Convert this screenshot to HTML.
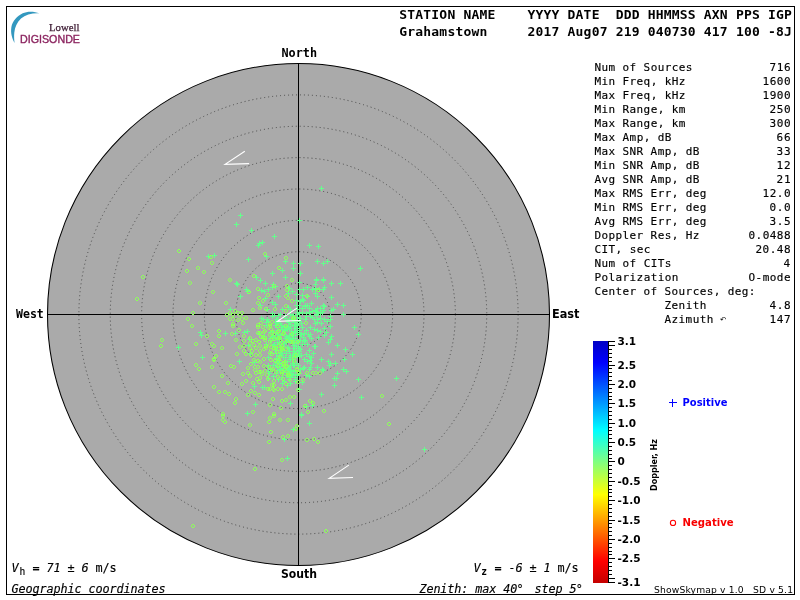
<!DOCTYPE html>
<html><head><meta charset="utf-8"><title>Skymap Grahamstown</title>
<style>
html,body{margin:0;padding:0;background:#fff;}
body{width:800px;height:600px;overflow:hidden;}
svg{display:block;}
.mb{font-family:"DejaVu Sans Mono","Liberation Mono",monospace;font-weight:bold;}
.m{font-family:"DejaVu Sans Mono","Liberation Mono",monospace;stroke:#000;stroke-width:0.15px;}
.mi{font-family:"DejaVu Sans Mono","Liberation Mono",monospace;font-style:italic;stroke:#000;stroke-width:0.14px;}
.sb{font-family:"DejaVu Sans","Liberation Sans",sans-serif;font-weight:bold;}
.s{font-family:"DejaVu Sans","Liberation Sans",sans-serif;}
</style>
</head><body>
<svg width="800" height="600" viewBox="0 0 800 600">
<defs><linearGradient id="cb" x1="0" y1="0" x2="0" y2="1">
<stop offset="0" stop-color="#0000c4"/>
<stop offset="0.09" stop-color="#0000ff"/>
<stop offset="0.37" stop-color="#00ffff"/>
<stop offset="0.5" stop-color="#80ff80"/>
<stop offset="0.635" stop-color="#ffff00"/>
<stop offset="0.91" stop-color="#ff0000"/>
<stop offset="1" stop-color="#c40000"/>
</linearGradient></defs>
<rect x="0" y="0" width="800" height="600" fill="#fff"/>
<rect x="6.5" y="6.5" width="788" height="588" fill="none" stroke="#000" stroke-width="1" shape-rendering="crispEdges"/>
<circle cx="298.5" cy="314.5" r="251" fill="#aaaaaa" stroke="#000" stroke-width="1.05"/>
<circle cx="298.5" cy="314.5" r="31.38" fill="none" stroke="#484848" stroke-width="1" stroke-dasharray="1 3"/>
<circle cx="298.5" cy="314.5" r="62.75" fill="none" stroke="#484848" stroke-width="1" stroke-dasharray="1 3"/>
<circle cx="298.5" cy="314.5" r="94.12" fill="none" stroke="#484848" stroke-width="1" stroke-dasharray="1 3"/>
<circle cx="298.5" cy="314.5" r="125.50" fill="none" stroke="#484848" stroke-width="1" stroke-dasharray="1 3"/>
<circle cx="298.5" cy="314.5" r="156.88" fill="none" stroke="#484848" stroke-width="1" stroke-dasharray="1 3"/>
<circle cx="298.5" cy="314.5" r="188.25" fill="none" stroke="#484848" stroke-width="1" stroke-dasharray="1 3"/>
<circle cx="298.5" cy="314.5" r="219.62" fill="none" stroke="#484848" stroke-width="1" stroke-dasharray="1 3"/>
<path d="M298.5 63.5 V565.5 M47.5 314.5 H549.5" stroke="#000" stroke-width="1" fill="none" shape-rendering="crispEdges"/>
<path d="M238 215.5h5M240.5 213v5M234 224.5h5M236.5 222v5M249 230.5h5M251.5 228v5M272 236.5h5M274.5 234v5M260 242.5h5M262.5 240v5M257 243.5h5M259.5 241v5M256 245.5h5M258.5 243v5M264 256.5h5M266.5 254v5M246 259.5h5M248.5 257v5M206 256.5h5M208.5 254v5M212 255.5h5M214.5 253v5M270 273.5h5M272.5 271v5M254 277.5h5M256.5 275v5M258 280.5h5M260.5 278v5M263 283.5h5M265.5 281v5M271 284.5h5M273.5 282v5M235 284.5h5M237.5 282v5M266 289.5h5M268.5 287v5M244 289.5h5M246.5 287v5M319 188.5h5M321.5 186v5M297 220.5h5M299.5 218v5M307 245.5h5M309.5 243v5M316 246.5h5M318.5 244v5M283 261.5h5M285.5 259v5M291 263.5h5M293.5 261v5M298 263.5h5M300.5 261v5M315 261.5h5M317.5 259v5M321 263.5h5M323.5 261v5M325 261.5h5M327.5 259v5M291 268.5h5M293.5 266v5M280 270.5h5M282.5 268v5M298 273.5h5M300.5 271v5M358 268.5h5M360.5 266v5M283 277.5h5M285.5 275v5M314 279.5h5M316.5 277v5M321 279.5h5M323.5 277v5M297 282.5h5M299.5 280v5M313 284.5h5M315.5 282v5M329 283.5h5M331.5 281v5M338 283.5h5M340.5 281v5M305 287.5h5M307.5 285v5M322 287.5h5M324.5 285v5M286 288.5h5M288.5 286v5M297 289.5h5M299.5 287v5M301 289.5h5M303.5 287v5M310 289.5h5M312.5 287v5M317 289.5h5M319.5 287v5M198 332.5h5M200.5 330v5M199 335.5h5M201.5 333v5M176 347.5h5M178.5 345v5M200 357.5h5M202.5 355v5M234 283.5h5M236.5 281v5M245 291.5h5M247.5 289v5M238 296.5h5M240.5 294v5M270 287.5h5M272.5 285v5M259 290.5h5M261.5 288v5M262 291.5h5M264.5 289v5M263 298.5h5M265.5 296v5M270 302.5h5M272.5 300v5M258 305.5h5M260.5 303v5M265 309.5h5M267.5 307v5M228 309.5h5M230.5 307v5M270 313.5h5M272.5 311v5M272 315.5h5M274.5 313v5M270 316.5h5M272.5 314v5M259 318.5h5M261.5 316v5M261 319.5h5M263.5 317v5M265 319.5h5M267.5 317v5M264 322.5h5M266.5 320v5M273 286.5h5M275.5 284v5M276 296.5h5M278.5 294v5M287 288.5h5M289.5 286v5M290 291.5h5M292.5 289v5M286 293.5h5M288.5 291v5M294 294.5h5M296.5 292v5M313 288.5h5M315.5 286v5M321 289.5h5M323.5 287v5M321 280.5h5M323.5 278v5M314 280.5h5M316.5 278v5M313 293.5h5M315.5 291v5M315 296.5h5M317.5 294v5M329 297.5h5M331.5 295v5M300 295.5h5M302.5 293v5M305 296.5h5M307.5 294v5M300 299.5h5M302.5 297v5M298 301.5h5M300.5 299v5M273 304.5h5M275.5 302v5M309 303.5h5M311.5 301v5M305 305.5h5M307.5 303v5M294 305.5h5M296.5 303v5M297 305.5h5M299.5 303v5M300 308.5h5M302.5 306v5M280 309.5h5M282.5 307v5M286 307.5h5M288.5 305v5M288 309.5h5M290.5 307v5M295 309.5h5M297.5 307v5M307 308.5h5M309.5 306v5M315 308.5h5M317.5 306v5M321 305.5h5M323.5 303v5M322 306.5h5M324.5 304v5M321 310.5h5M323.5 308v5M313 310.5h5M315.5 308v5M310 311.5h5M312.5 309v5M307 312.5h5M309.5 310v5M304 313.5h5M306.5 311v5M329 310.5h5M331.5 308v5M331 309.5h5M333.5 307v5M295 312.5h5M297.5 310v5M295 314.5h5M297.5 312v5M291 315.5h5M293.5 313v5M278 314.5h5M280.5 312v5M276 315.5h5M278.5 313v5M283 316.5h5M285.5 314v5M288 314.5h5M290.5 312v5M274 319.5h5M276.5 317v5M287 319.5h5M289.5 317v5M295 317.5h5M297.5 315v5M298 318.5h5M300.5 316v5M304 316.5h5M306.5 314v5M303 319.5h5M305.5 317v5M308 316.5h5M310.5 314v5M310 317.5h5M312.5 315v5M312 319.5h5M314.5 317v5M314 315.5h5M316.5 313v5M315 319.5h5M317.5 317v5M315 322.5h5M317.5 320v5M318 313.5h5M320.5 311v5M322 319.5h5M324.5 317v5M328 316.5h5M330.5 314v5M328 319.5h5M330.5 317v5M278 323.5h5M280.5 321v5M287 322.5h5M289.5 320v5M292 322.5h5M294.5 320v5M295 323.5h5M297.5 321v5M319 323.5h5M321.5 321v5M313 323.5h5M315.5 321v5M335 304.5h5M337.5 302v5M341 305.5h5M343.5 303v5M341 314.5h5M343.5 312v5M223 333.5h5M225.5 331v5M233 333.5h5M235.5 331v5M242 332.5h5M244.5 330v5M245 331.5h5M247.5 329v5M257 333.5h5M259.5 331v5M262 336.5h5M264.5 334v5M268 332.5h5M270.5 330v5M268 338.5h5M270.5 336v5M268 340.5h5M270.5 338v5M247 339.5h5M249.5 337v5M246 345.5h5M248.5 343v5M264 344.5h5M266.5 342v5M271 345.5h5M273.5 343v5M248 353.5h5M250.5 351v5M268 353.5h5M270.5 351v5M237 361.5h5M239.5 359v5M252 362.5h5M254.5 360v5M271 365.5h5M273.5 363v5M264 325.5h5M266.5 323v5M329 336.5h5M331.5 334v5M328 339.5h5M330.5 337v5M326 342.5h5M328.5 340v5M322 335.5h5M324.5 333v5M324 332.5h5M326.5 330v5M322 328.5h5M324.5 326v5M318 331.5h5M320.5 329v5M315 330.5h5M317.5 328v5M312 329.5h5M314.5 327v5M316 337.5h5M318.5 335v5M313 346.5h5M315.5 344v5M312 346.5h5M314.5 344v5M311 353.5h5M313.5 351v5M329 354.5h5M331.5 352v5M319 359.5h5M321.5 357v5M326 361.5h5M328.5 359v5M328 363.5h5M330.5 361v5M327 365.5h5M329.5 363v5M315 367.5h5M317.5 365v5M320 369.5h5M322.5 367v5M307 350.5h5M309.5 348v5M307 356.5h5M309.5 354v5M308 360.5h5M310.5 358v5M309 363.5h5M311.5 361v5M308 367.5h5M310.5 365v5M306 334.5h5M308.5 332v5M309 338.5h5M311.5 336v5M304 330.5h5M306.5 328v5M302 333.5h5M304.5 331v5M308 327.5h5M310.5 325v5M305 344.5h5M307.5 342v5M303 340.5h5M305.5 338v5M274 325.5h5M276.5 323v5M279 325.5h5M281.5 323v5M282 326.5h5M284.5 324v5M284 326.5h5M286.5 324v5M288 326.5h5M290.5 324v5M292 325.5h5M294.5 323v5M300 327.5h5M302.5 325v5M275 330.5h5M277.5 328v5M280 329.5h5M282.5 327v5M283 330.5h5M285.5 328v5M285 329.5h5M287.5 327v5M289 331.5h5M291.5 329v5M292 331.5h5M294.5 329v5M297 330.5h5M299.5 328v5M275 334.5h5M277.5 332v5M278 335.5h5M280.5 333v5M282 334.5h5M284.5 332v5M287 335.5h5M289.5 333v5M289 334.5h5M291.5 332v5M293 335.5h5M295.5 333v5M298 334.5h5M300.5 332v5M299 334.5h5M301.5 332v5M273 338.5h5M275.5 336v5M277 339.5h5M279.5 337v5M283 338.5h5M285.5 336v5M287 338.5h5M289.5 336v5M290 338.5h5M292.5 336v5M293 338.5h5M295.5 336v5M298 340.5h5M300.5 338v5M301 337.5h5M303.5 335v5M275 344.5h5M277.5 342v5M279 341.5h5M281.5 339v5M282 343.5h5M284.5 341v5M284 342.5h5M286.5 340v5M288 341.5h5M290.5 339v5M292 343.5h5M294.5 341v5M296 341.5h5M298.5 339v5M302 341.5h5M304.5 339v5M275 347.5h5M277.5 345v5M279 347.5h5M281.5 345v5M281 346.5h5M283.5 344v5M285 347.5h5M287.5 345v5M291 345.5h5M293.5 343v5M292 345.5h5M294.5 343v5M296 346.5h5M298.5 344v5M300 344.5h5M302.5 342v5M274 350.5h5M276.5 348v5M279 350.5h5M281.5 348v5M282 350.5h5M284.5 348v5M286 348.5h5M288.5 346v5M291 351.5h5M293.5 349v5M294 351.5h5M296.5 349v5M274 353.5h5M276.5 351v5M278 352.5h5M280.5 350v5M280 353.5h5M282.5 351v5M284 353.5h5M286.5 351v5M288 355.5h5M290.5 353v5M293 353.5h5M295.5 351v5M296 353.5h5M298.5 351v5M299 355.5h5M301.5 353v5M274 358.5h5M276.5 356v5M277 356.5h5M279.5 354v5M281 357.5h5M283.5 355v5M287 357.5h5M289.5 355v5M288 359.5h5M290.5 357v5M293 357.5h5M295.5 355v5M297 356.5h5M299.5 354v5M302 359.5h5M304.5 357v5M274 361.5h5M276.5 359v5M277 362.5h5M279.5 360v5M282 362.5h5M284.5 360v5M285 361.5h5M287.5 359v5M290 363.5h5M292.5 361v5M294 363.5h5M296.5 361v5M273 365.5h5M275.5 363v5M277 366.5h5M279.5 364v5M283 365.5h5M285.5 363v5M287 367.5h5M289.5 365v5M291 365.5h5M293.5 363v5M292 365.5h5M294.5 363v5M296 365.5h5M298.5 363v5M302 367.5h5M304.5 365v5M275 370.5h5M277.5 368v5M277 370.5h5M279.5 368v5M283 370.5h5M285.5 368v5M286 369.5h5M288.5 367v5M288 370.5h5M290.5 368v5M293 370.5h5M295.5 368v5M298 369.5h5M300.5 367v5M352 327.5h5M354.5 325v5M356 334.5h5M358.5 332v5M335 345.5h5M337.5 343v5M343 349.5h5M345.5 347v5M350 354.5h5M352.5 352v5M342 359.5h5M344.5 357v5M333 363.5h5M335.5 361v5M341 369.5h5M343.5 367v5M252 386.5h5M254.5 384v5M260 387.5h5M262.5 385v5M262 387.5h5M264.5 385v5M253 404.5h5M255.5 402v5M245 413.5h5M247.5 411v5M271 376.5h5M273.5 374v5M280 372.5h5M282.5 370v5M285 370.5h5M287.5 368v5M290 375.5h5M292.5 373v5M293 374.5h5M295.5 372v5M297 373.5h5M299.5 371v5M293 377.5h5M295.5 375v5M280 383.5h5M282.5 381v5M285 385.5h5M287.5 383v5M288 383.5h5M290.5 381v5M300 382.5h5M302.5 380v5M297 389.5h5M299.5 387v5M304 375.5h5M306.5 373v5M307 376.5h5M309.5 374v5M319 394.5h5M321.5 392v5M288 403.5h5M290.5 401v5M310 405.5h5M312.5 403v5M304 406.5h5M306.5 404v5M332 385.5h5M334.5 383v5M321 370.5h5M323.5 368v5M299 414.5h5M301.5 412v5M332 378.5h5M334.5 376v5M335 373.5h5M337.5 371v5M344 371.5h5M346.5 369v5M334 378.5h5M336.5 376v5M356 379.5h5M358.5 377v5M394 378.5h5M396.5 376v5M359 397.5h5M361.5 395v5M299 415.5h5M301.5 413v5M307 423.5h5M309.5 421v5M291 429.5h5M293.5 427v5M282 439.5h5M284.5 437v5M285 458.5h5M287.5 456v5M422 449.5h5M424.5 447v5M295 325.5h5M297.5 323v5M297 313.5h5M299.5 311v5M299 323.5h5M301.5 321v5M294 300.5h5M296.5 298v5M300 312.5h5M302.5 310v5M297 321.5h5M299.5 319v5M295 328.5h5M297.5 326v5M301 300.5h5M303.5 298v5M328 326.5h5M330.5 324v5M303 306.5h5M305.5 304v5M325 321.5h5M327.5 319v5M320 312.5h5M322.5 310v5M318 318.5h5M320.5 316v5M318 308.5h5M320.5 306v5M314 314.5h5M316.5 312v5M314 311.5h5M316.5 309v5M303 305.5h5M305.5 303v5M315 312.5h5M317.5 310v5M286 322.5h5M288.5 320v5M266 371.5h5M268.5 369v5M274 332.5h5M276.5 330v5M297 348.5h5M299.5 346v5M292 348.5h5M294.5 346v5M286 327.5h5M288.5 325v5M286 373.5h5M288.5 371v5M290 355.5h5M292.5 353v5M275 319.5h5M277.5 317v5M289 374.5h5M291.5 372v5M288 376.5h5M290.5 374v5M278 369.5h5M280.5 367v5M280 377.5h5M282.5 375v5M294 324.5h5M296.5 322v5M270 331.5h5M272.5 329v5M286 337.5h5M288.5 335v5M277 355.5h5M279.5 353v5M284 375.5h5M286.5 373v5M287 377.5h5M289.5 375v5M293 381.5h5M295.5 379v5M287 328.5h5M289.5 326v5M293 379.5h5M295.5 377v5M294 354.5h5M296.5 352v5M292 354.5h5M294.5 352v5M275 322.5h5M277.5 320v5M268 369.5h5M270.5 367v5M279 327.5h5M281.5 325v5M275 367.5h5M277.5 365v5M293 320.5h5M295.5 318v5M285 320.5h5M287.5 318v5M288 339.5h5M290.5 337v5M282 381.5h5M284.5 379v5M275 322.5h5M277.5 320v5M272 344.5h5M274.5 342v5M267 373.5h5M269.5 371v5M276 379.5h5M278.5 377v5M294 342.5h5M296.5 340v5M283 357.5h5M285.5 355v5M296 350.5h5M298.5 348v5M279 364.5h5M281.5 362v5M273 337.5h5M275.5 335v5M297 351.5h5M299.5 349v5M283 318.5h5M285.5 316v5M279 355.5h5M281.5 353v5M266 357.5h5M268.5 355v5M287 340.5h5M289.5 338v5M288 365.5h5M290.5 363v5M266 321.5h5M268.5 319v5M287 379.5h5M289.5 377v5M284 338.5h5M286.5 336v5M277 338.5h5M279.5 336v5M275 342.5h5M277.5 340v5M290 319.5h5M292.5 317v5M275 332.5h5M277.5 330v5M291 333.5h5M293.5 331v5M288 324.5h5M290.5 322v5M293 328.5h5M295.5 326v5M276 359.5h5M278.5 357v5M294 346.5h5M296.5 344v5M273 325.5h5M275.5 323v5M291 371.5h5M293.5 369v5M271 335.5h5M273.5 333v5M291 359.5h5M293.5 357v5M291 340.5h5M293.5 338v5M270 336.5h5M272.5 334v5M291 335.5h5M293.5 333v5M277 344.5h5M279.5 342v5M279 344.5h5M281.5 342v5M266 378.5h5M268.5 376v5M295 332.5h5M297.5 330v5M289 371.5h5M291.5 369v5M287 351.5h5M289.5 349v5M275 339.5h5M277.5 337v5M273 322.5h5M275.5 320v5M284 336.5h5M286.5 334v5M291 320.5h5M293.5 318v5M295 375.5h5M297.5 373v5M266 365.5h5M268.5 363v5M271 337.5h5M273.5 335v5M285 339.5h5M287.5 337v5M274 373.5h5M276.5 371v5M281 368.5h5M283.5 366v5M305 361.5h5M307.5 359v5M307 369.5h5M309.5 367v5M298 349.5h5M300.5 347v5M309 357.5h5M311.5 355v5M308 334.5h5M310.5 332v5M304 354.5h5M306.5 352v5M301 368.5h5M303.5 366v5M307 336.5h5M309.5 334v5" stroke="#64ff8c" stroke-width="1" fill="none" shape-rendering="crispEdges"/>
<path d="M178 249.5h2M178 252.5h2M177.5 250v2M180.5 250v2M188 257.5h2M188 260.5h2M187.5 258v2M190.5 258v2M210 255.5h2M210 258.5h2M209.5 256v2M212.5 256v2M211 261.5h2M211 264.5h2M210.5 262v2M213.5 262v2M197 266.5h2M197 269.5h2M196.5 267v2M199.5 267v2M186 269.5h2M186 272.5h2M185.5 270v2M188.5 270v2M203 270.5h2M203 273.5h2M202.5 271v2M205.5 271v2M142 275.5h2M142 278.5h2M141.5 276v2M144.5 276v2M189 281.5h2M189 284.5h2M188.5 282v2M191.5 282v2M229 278.5h2M229 281.5h2M228.5 279v2M231.5 279v2M264 252.5h2M264 255.5h2M263.5 253v2M266.5 253v2M278 266.5h2M278 269.5h2M277.5 267v2M280.5 267v2M253 274.5h2M253 277.5h2M252.5 275v2M255.5 275v2M273 284.5h2M273 287.5h2M272.5 285v2M275.5 285v2M257 287.5h2M257 290.5h2M256.5 288v2M259.5 288v2M285 256.5h2M285 259.5h2M284.5 257v2M287.5 257v2M291 278.5h2M291 281.5h2M290.5 279v2M293.5 279v2M286 284.5h2M286 287.5h2M285.5 285v2M288.5 285v2M136 297.5h2M136 300.5h2M135.5 298v2M138.5 298v2M212 290.5h2M212 293.5h2M211.5 291v2M214.5 291v2M199 301.5h2M199 304.5h2M198.5 302v2M201.5 302v2M192 311.5h2M192 314.5h2M191.5 312v2M194.5 312v2M187 317.5h2M187 320.5h2M186.5 318v2M189.5 318v2M191 324.5h2M191 327.5h2M190.5 325v2M193.5 325v2M161 338.5h2M161 341.5h2M160.5 339v2M163.5 339v2M160 344.5h2M160 347.5h2M159.5 345v2M162.5 345v2M195 342.5h2M195 345.5h2M194.5 343v2M197.5 343v2M206 334.5h2M206 337.5h2M205.5 335v2M208.5 335v2M218 329.5h2M218 332.5h2M217.5 330v2M220.5 330v2M218 334.5h2M218 337.5h2M217.5 335v2M220.5 335v2M211 342.5h2M211 345.5h2M210.5 343v2M213.5 343v2M213 344.5h2M213 347.5h2M212.5 345v2M215.5 345v2M215 354.5h2M215 357.5h2M214.5 355v2M217.5 355v2M213 357.5h2M213 360.5h2M212.5 358v2M215.5 358v2M248 290.5h2M248 293.5h2M247.5 291v2M250.5 291v2M258 296.5h2M258 299.5h2M257.5 297v2M260.5 297v2M267 293.5h2M267 296.5h2M266.5 294v2M269.5 294v2M262 299.5h2M262 302.5h2M261.5 300v2M264.5 300v2M225 301.5h2M225 304.5h2M224.5 302v2M227.5 302v2M257 301.5h2M257 304.5h2M256.5 302v2M259.5 302v2M259 306.5h2M259 309.5h2M258.5 307v2M261.5 307v2M252 308.5h2M252 311.5h2M251.5 309v2M254.5 309v2M265 307.5h2M265 310.5h2M264.5 308v2M267.5 308v2M274 307.5h2M274 310.5h2M273.5 308v2M276.5 308v2M234 309.5h2M234 312.5h2M233.5 310v2M236.5 310v2M229 311.5h2M229 314.5h2M228.5 312v2M231.5 312v2M226 313.5h2M226 316.5h2M225.5 314v2M228.5 314v2M232 313.5h2M232 316.5h2M231.5 314v2M234.5 314v2M237 311.5h2M237 314.5h2M236.5 312v2M239.5 312v2M241 311.5h2M241 314.5h2M240.5 312v2M243.5 312v2M239 313.5h2M239 316.5h2M238.5 314v2M241.5 314v2M229 317.5h2M229 320.5h2M228.5 318v2M231.5 318v2M232 317.5h2M232 320.5h2M231.5 318v2M234.5 318v2M237 318.5h2M237 321.5h2M236.5 319v2M239.5 319v2M241 317.5h2M241 320.5h2M240.5 318v2M243.5 318v2M245 316.5h2M245 319.5h2M244.5 317v2M247.5 317v2M242 321.5h2M242 324.5h2M241.5 322v2M244.5 322v2M232 322.5h2M232 325.5h2M231.5 323v2M234.5 323v2M260 321.5h2M260 324.5h2M259.5 322v2M262.5 322v2M257 323.5h2M257 326.5h2M256.5 324v2M259.5 324v2M269 322.5h2M269 325.5h2M268.5 323v2M271.5 323v2M286 288.5h2M286 291.5h2M285.5 289v2M288.5 289v2M285 294.5h2M285 297.5h2M284.5 295v2M287.5 295v2M287 296.5h2M287 299.5h2M286.5 297v2M289.5 297v2M291 299.5h2M291 302.5h2M290.5 300v2M293.5 300v2M306 294.5h2M306 297.5h2M305.5 295v2M308.5 295v2M317 288.5h2M317 291.5h2M316.5 289v2M319.5 289v2M285 304.5h2M285 307.5h2M284.5 305v2M287.5 305v2M285 309.5h2M285 312.5h2M284.5 310v2M287.5 310v2M305 321.5h2M305 324.5h2M304.5 322v2M307.5 322v2M232 324.5h2M232 327.5h2M231.5 325v2M234.5 325v2M231 332.5h2M231 335.5h2M230.5 333v2M233.5 333v2M238 328.5h2M238 331.5h2M237.5 329v2M240.5 329v2M243 334.5h2M243 337.5h2M242.5 335v2M245.5 335v2M235 338.5h2M235 341.5h2M234.5 339v2M237.5 339v2M243 339.5h2M243 342.5h2M242.5 340v2M245.5 340v2M221 346.5h2M221 349.5h2M220.5 347v2M223.5 347v2M239 345.5h2M239 348.5h2M238.5 346v2M241.5 346v2M243 344.5h2M243 347.5h2M242.5 345v2M245.5 345v2M243 349.5h2M243 352.5h2M242.5 350v2M245.5 350v2M236 352.5h2M236 355.5h2M235.5 353v2M238.5 353v2M245 352.5h2M245 355.5h2M244.5 353v2M247.5 353v2M249 336.5h2M249 339.5h2M248.5 337v2M251.5 337v2M255 338.5h2M255 341.5h2M254.5 339v2M257.5 339v2M252 339.5h2M252 342.5h2M251.5 340v2M254.5 340v2M258 340.5h2M258 343.5h2M257.5 341v2M260.5 341v2M249 341.5h2M249 344.5h2M248.5 342v2M251.5 342v2M253 343.5h2M253 346.5h2M252.5 344v2M255.5 344v2M249 346.5h2M249 349.5h2M248.5 347v2M251.5 347v2M255 346.5h2M255 349.5h2M254.5 347v2M257.5 347v2M259 344.5h2M259 347.5h2M258.5 345v2M261.5 345v2M259 349.5h2M259 352.5h2M258.5 350v2M261.5 350v2M263 347.5h2M263 350.5h2M262.5 348v2M265.5 348v2M251 349.5h2M251 352.5h2M250.5 350v2M253.5 350v2M250 353.5h2M250 356.5h2M249.5 354v2M252.5 354v2M259 353.5h2M259 356.5h2M258.5 354v2M261.5 354v2M263 357.5h2M263 360.5h2M262.5 358v2M265.5 358v2M270 358.5h2M270 361.5h2M269.5 359v2M272.5 359v2M253 358.5h2M253 361.5h2M252.5 359v2M255.5 359v2M257 359.5h2M257 362.5h2M256.5 360v2M259.5 360v2M259 360.5h2M259 363.5h2M258.5 361v2M261.5 361v2M250 362.5h2M250 365.5h2M249.5 363v2M252.5 363v2M230 364.5h2M230 367.5h2M229.5 365v2M232.5 365v2M233 365.5h2M233 368.5h2M232.5 366v2M235.5 366v2M247 366.5h2M247 369.5h2M246.5 367v2M249.5 367v2M254 365.5h2M254 368.5h2M253.5 366v2M256.5 366v2M257 365.5h2M257 368.5h2M256.5 366v2M259.5 366v2M263 364.5h2M263 367.5h2M262.5 365v2M265.5 365v2M268 365.5h2M268 368.5h2M267.5 366v2M270.5 366v2M257 325.5h2M257 328.5h2M256.5 326v2M259.5 326v2M262 325.5h2M262 328.5h2M261.5 326v2M264.5 326v2M264 329.5h2M264 332.5h2M263.5 330v2M266.5 330v2M260 335.5h2M260 338.5h2M259.5 336v2M262.5 336v2M264 338.5h2M264 341.5h2M263.5 339v2M266.5 339v2M270 345.5h2M270 348.5h2M269.5 346v2M272.5 346v2M273 346.5h2M273 349.5h2M272.5 347v2M275.5 347v2M269 351.5h2M269 354.5h2M268.5 352v2M271.5 352v2M268 326.5h2M268 329.5h2M267.5 327v2M270.5 327v2M273 332.5h2M273 335.5h2M272.5 333v2M275.5 333v2M277 330.5h2M277 333.5h2M276.5 331v2M279.5 331v2M293 359.5h2M293 362.5h2M292.5 360v2M295.5 360v2M277 360.5h2M277 363.5h2M276.5 361v2M279.5 361v2M295 353.5h2M295 356.5h2M294.5 354v2M297.5 354v2M281 348.5h2M281 351.5h2M280.5 349v2M283.5 349v2M277 324.5h2M277 327.5h2M276.5 325v2M279.5 325v2M285 365.5h2M285 368.5h2M284.5 366v2M287.5 366v2M283 362.5h2M283 365.5h2M282.5 363v2M285.5 363v2M291 332.5h2M291 335.5h2M290.5 333v2M293.5 333v2M279 336.5h2M279 339.5h2M278.5 337v2M281.5 337v2M279 349.5h2M279 352.5h2M278.5 350v2M281.5 350v2M279 342.5h2M279 345.5h2M278.5 343v2M281.5 343v2M277 364.5h2M277 367.5h2M276.5 365v2M279.5 365v2M281 344.5h2M281 347.5h2M280.5 345v2M283.5 345v2M286 364.5h2M286 367.5h2M285.5 365v2M288.5 365v2M283 364.5h2M283 367.5h2M282.5 365v2M285.5 365v2M285 347.5h2M285 350.5h2M284.5 348v2M287.5 348v2M285 324.5h2M285 327.5h2M284.5 325v2M287.5 325v2M283 331.5h2M283 334.5h2M282.5 332v2M285.5 332v2M274 359.5h2M274 362.5h2M273.5 360v2M276.5 360v2M278 344.5h2M278 347.5h2M277.5 345v2M280.5 345v2M195 363.5h2M195 366.5h2M194.5 364v2M197.5 364v2M198 367.5h2M198 370.5h2M197.5 368v2M200.5 368v2M211 365.5h2M211 368.5h2M210.5 366v2M213.5 366v2M213 358.5h2M213 361.5h2M212.5 359v2M215.5 359v2M213 385.5h2M213 388.5h2M212.5 386v2M215.5 386v2M221 374.5h2M221 377.5h2M220.5 375v2M223.5 375v2M227 381.5h2M227 384.5h2M226.5 382v2M229.5 382v2M218 390.5h2M218 393.5h2M217.5 391v2M220.5 391v2M224 390.5h2M224 393.5h2M223.5 391v2M226.5 391v2M228 392.5h2M228 395.5h2M227.5 393v2M230.5 393v2M235 397.5h2M235 400.5h2M234.5 398v2M237.5 398v2M234 401.5h2M234 404.5h2M233.5 402v2M236.5 402v2M222 412.5h2M222 415.5h2M221.5 413v2M224.5 413v2M242 372.5h2M242 375.5h2M241.5 373v2M244.5 373v2M247 371.5h2M247 374.5h2M246.5 372v2M249.5 372v2M249 374.5h2M249 377.5h2M248.5 375v2M251.5 375v2M245 379.5h2M245 382.5h2M244.5 380v2M247.5 380v2M241 382.5h2M241 385.5h2M240.5 383v2M243.5 383v2M252 381.5h2M252 384.5h2M251.5 382v2M254.5 382v2M250 389.5h2M250 392.5h2M249.5 390v2M252.5 390v2M254 391.5h2M254 394.5h2M253.5 392v2M256.5 392v2M247 393.5h2M247 396.5h2M246.5 394v2M249.5 394v2M252 410.5h2M252 413.5h2M251.5 411v2M254.5 411v2M255 371.5h2M255 374.5h2M254.5 372v2M257.5 372v2M258 370.5h2M258 373.5h2M257.5 371v2M260.5 371v2M261 372.5h2M261 375.5h2M260.5 373v2M263.5 373v2M259 376.5h2M259 379.5h2M258.5 377v2M261.5 377v2M256 377.5h2M256 380.5h2M255.5 378v2M258.5 378v2M258 380.5h2M258 383.5h2M257.5 381v2M260.5 381v2M267 377.5h2M267 380.5h2M266.5 378v2M269.5 378v2M264 369.5h2M264 372.5h2M263.5 370v2M266.5 370v2M254 368.5h2M254 371.5h2M253.5 369v2M256.5 369v2M267 387.5h2M267 390.5h2M266.5 388v2M269.5 388v2M272 397.5h2M272 400.5h2M271.5 398v2M274.5 398v2M269 403.5h2M269 406.5h2M268.5 404v2M271.5 404v2M273 412.5h2M273 415.5h2M272.5 413v2M275.5 413v2M273 379.5h2M273 382.5h2M272.5 380v2M275.5 380v2M273 383.5h2M273 386.5h2M272.5 384v2M275.5 384v2M277 375.5h2M277 378.5h2M276.5 376v2M279.5 376v2M282 377.5h2M282 380.5h2M281.5 378v2M284.5 378v2M287 373.5h2M287 376.5h2M286.5 374v2M289.5 374v2M289 378.5h2M289 381.5h2M288.5 379v2M291.5 379v2M285 382.5h2M285 385.5h2M284.5 383v2M287.5 383v2M277 387.5h2M277 390.5h2M276.5 388v2M279.5 388v2M281 387.5h2M281 390.5h2M280.5 388v2M283.5 388v2M297 380.5h2M297 383.5h2M296.5 381v2M299.5 381v2M297 388.5h2M297 391.5h2M296.5 389v2M299.5 389v2M289 395.5h2M289 398.5h2M288.5 396v2M291.5 396v2M293 395.5h2M293 398.5h2M292.5 396v2M295.5 396v2M281 399.5h2M281 402.5h2M280.5 400v2M283.5 400v2M285 398.5h2M285 401.5h2M284.5 399v2M287.5 399v2M280 406.5h2M280 409.5h2M279.5 407v2M282.5 407v2M302 378.5h2M302 381.5h2M301.5 379v2M304.5 379v2M306 371.5h2M306 374.5h2M305.5 372v2M308.5 372v2M312 371.5h2M312 374.5h2M311.5 372v2M314.5 372v2M315 371.5h2M315 374.5h2M314.5 372v2M317.5 372v2M319 371.5h2M319 374.5h2M318.5 372v2M321.5 372v2M309 399.5h2M309 402.5h2M308.5 400v2M311.5 400v2M312 401.5h2M312 404.5h2M311.5 402v2M314.5 402v2M304 404.5h2M304 407.5h2M303.5 405v2M306.5 405v2M307 410.5h2M307 413.5h2M306.5 411v2M309.5 411v2M323 409.5h2M323 412.5h2M322.5 410v2M325.5 410v2M275 370.5h2M275 373.5h2M274.5 371v2M277.5 371v2M281 370.5h2M281 373.5h2M280.5 371v2M283.5 371v2M381 394.5h2M381 397.5h2M380.5 395v2M383.5 395v2M388 422.5h2M388 425.5h2M387.5 423v2M390.5 423v2M222 414.5h2M222 417.5h2M221.5 415v2M224.5 415v2M222 418.5h2M222 421.5h2M221.5 419v2M224.5 419v2M224 420.5h2M224 423.5h2M223.5 421v2M226.5 421v2M249 423.5h2M249 426.5h2M248.5 424v2M251.5 424v2M269 416.5h2M269 419.5h2M268.5 417v2M271.5 417v2M268 420.5h2M268 423.5h2M267.5 421v2M270.5 421v2M273 414.5h2M273 417.5h2M272.5 415v2M275.5 415v2M279 418.5h2M279 421.5h2M278.5 419v2M281.5 419v2M287 418.5h2M287 421.5h2M286.5 419v2M289.5 419v2M270 430.5h2M270 433.5h2M269.5 431v2M272.5 431v2M296 424.5h2M296 427.5h2M295.5 425v2M298.5 425v2M295 427.5h2M295 430.5h2M294.5 428v2M297.5 428v2M282 435.5h2M282 438.5h2M281.5 436v2M284.5 436v2M287 434.5h2M287 437.5h2M286.5 435v2M289.5 435v2M268 440.5h2M268 443.5h2M267.5 441v2M270.5 441v2M306 438.5h2M306 441.5h2M305.5 439v2M308.5 439v2M313 437.5h2M313 440.5h2M312.5 438v2M315.5 438v2M281 458.5h2M281 461.5h2M280.5 459v2M283.5 459v2M254 467.5h2M254 470.5h2M253.5 468v2M256.5 468v2M317 440.5h2M317 443.5h2M316.5 441v2M319.5 441v2M192 524.5h2M192 527.5h2M191.5 525v2M194.5 525v2M325 529.5h2M325 532.5h2M324.5 530v2M327.5 530v2M278 329.5h2M278 332.5h2M277.5 330v2M280.5 330v2M284 368.5h2M284 371.5h2M283.5 369v2M286.5 369v2M272 367.5h2M272 370.5h2M271.5 368v2M274.5 368v2M296 368.5h2M296 371.5h2M295.5 369v2M298.5 369v2M293 316.5h2M293 319.5h2M292.5 317v2M295.5 317v2M287 371.5h2M287 374.5h2M286.5 372v2M289.5 372v2M269 333.5h2M269 336.5h2M268.5 334v2M271.5 334v2M276 350.5h2M276 353.5h2M275.5 351v2M278.5 351v2M281 346.5h2M281 349.5h2M280.5 347v2M283.5 347v2M292 316.5h2M292 319.5h2M291.5 317v2M294.5 317v2M269 324.5h2M269 327.5h2M268.5 325v2M271.5 325v2M271 320.5h2M271 323.5h2M270.5 321v2M273.5 321v2M298 371.5h2M298 374.5h2M297.5 372v2M300.5 372v2M270 348.5h2M270 351.5h2M269.5 349v2M272.5 349v2M277 336.5h2M277 339.5h2M276.5 337v2M279.5 337v2M278 357.5h2M278 360.5h2M277.5 358v2M280.5 358v2M286 339.5h2M286 342.5h2M285.5 340v2M288.5 340v2M273 337.5h2M273 340.5h2M272.5 338v2M275.5 338v2M271 352.5h2M271 355.5h2M270.5 353v2M273.5 353v2M290 340.5h2M290 343.5h2M289.5 341v2M292.5 341v2M270 327.5h2M270 330.5h2M269.5 328v2M272.5 328v2M279 355.5h2M279 358.5h2M278.5 356v2M281.5 356v2M292 340.5h2M292 343.5h2M291.5 341v2M294.5 341v2M293 356.5h2M293 359.5h2M292.5 357v2M295.5 357v2M281 340.5h2M281 343.5h2M280.5 341v2M283.5 341v2M283 361.5h2M283 364.5h2M282.5 362v2M285.5 362v2M280 360.5h2M280 363.5h2M279.5 361v2M282.5 361v2M282 332.5h2M282 335.5h2M281.5 333v2M284.5 333v2M284 360.5h2M284 363.5h2M283.5 361v2M286.5 361v2M269 343.5h2M269 346.5h2M268.5 344v2M271.5 344v2M281 372.5h2M281 375.5h2M280.5 373v2M283.5 373v2M297 340.5h2M297 343.5h2M296.5 341v2M299.5 341v2M296 367.5h2M296 370.5h2M295.5 368v2M298.5 368v2M275 346.5h2M275 349.5h2M274.5 347v2M277.5 347v2M271 368.5h2M271 371.5h2M270.5 369v2M273.5 369v2M288 373.5h2M288 376.5h2M287.5 374v2M290.5 374v2M259 331.5h2M259 334.5h2M258.5 332v2M261.5 332v2M262 335.5h2M262 338.5h2M261.5 336v2M264.5 336v2M255 353.5h2M255 356.5h2M254.5 354v2M257.5 354v2M269 340.5h2M269 343.5h2M268.5 341v2M271.5 341v2M265 344.5h2M265 347.5h2M264.5 345v2M267.5 345v2M257 331.5h2M257 334.5h2M256.5 332v2M259.5 332v2M258 393.5h2M258 396.5h2M257.5 394v2M260.5 394v2M271 383.5h2M271 386.5h2M270.5 384v2M273.5 384v2M270 338.5h2M270 341.5h2M269.5 339v2M272.5 339v2M260 370.5h2M260 373.5h2M259.5 371v2M262.5 371v2M269 387.5h2M269 390.5h2M268.5 388v2M271.5 388v2M272 330.5h2M272 333.5h2M271.5 331v2M274.5 331v2M266 373.5h2M266 376.5h2M265.5 374v2M268.5 374v2M264 336.5h2M264 339.5h2M263.5 337v2M266.5 337v2M263 330.5h2M263 333.5h2M262.5 331v2M265.5 331v2M273 388.5h2M273 391.5h2M272.5 389v2M275.5 389v2M265 346.5h2M265 349.5h2M264.5 347v2M267.5 347v2M272 387.5h2M272 390.5h2M271.5 388v2M274.5 388v2" stroke="#8cff5a" stroke-width="1" fill="none" shape-rendering="crispEdges"/>
<polyline points="244.8,151.3 225.1,164.4 249.1,163.6" fill="none" stroke="#fff" stroke-width="1.1"/>
<polyline points="348.8,465.1 329.2,478.4 353,477.5" fill="none" stroke="#fff" stroke-width="1.1"/>
<polyline points="296.9,308.1 277.4,321.3 300.6,320.5" fill="none" stroke="#fff" stroke-width="1.1"/>
<text class="mb" x="281.5" y="57" font-size="12" textLength="35.5" lengthAdjust="spacingAndGlyphs">North</text>
<text class="sb" x="281" y="578" font-size="12" textLength="36" lengthAdjust="spacingAndGlyphs">South</text>
<text class="mb" x="16" y="318" font-size="12" textLength="27.8" lengthAdjust="spacingAndGlyphs">West</text>
<text class="sb" x="552" y="318" font-size="12" textLength="27.5" lengthAdjust="spacingAndGlyphs">East</text>
<text class="mb" x="399.3" y="19" font-size="13" textLength="392.5" lengthAdjust="spacing" xml:space="preserve">STATION NAME    YYYY DATE  DDD HHMMSS AXN PPS IGP</text>
<text class="mb" x="399.3" y="36" font-size="13" textLength="392.5" lengthAdjust="spacing" xml:space="preserve">Grahamstown     2017 Aug07 219 040730 417 100 -8J</text>
<text class="m" x="594.4" y="71" font-size="11" textLength="98" lengthAdjust="spacing" xml:space="preserve">Num of Sources</text>
<text class="m" x="769.5" y="71" font-size="11" textLength="21" lengthAdjust="spacing">716</text>
<text class="m" x="594.4" y="85" font-size="11" textLength="91" lengthAdjust="spacing" xml:space="preserve">Min Freq, kHz</text>
<text class="m" x="762.5" y="85" font-size="11" textLength="28" lengthAdjust="spacing">1600</text>
<text class="m" x="594.4" y="99" font-size="11" textLength="91" lengthAdjust="spacing" xml:space="preserve">Max Freq, kHz</text>
<text class="m" x="762.5" y="99" font-size="11" textLength="28" lengthAdjust="spacing">1900</text>
<text class="m" x="594.4" y="113" font-size="11" textLength="91" lengthAdjust="spacing" xml:space="preserve">Min Range, km</text>
<text class="m" x="769.5" y="113" font-size="11" textLength="21" lengthAdjust="spacing">250</text>
<text class="m" x="594.4" y="127" font-size="11" textLength="91" lengthAdjust="spacing" xml:space="preserve">Max Range, km</text>
<text class="m" x="769.5" y="127" font-size="11" textLength="21" lengthAdjust="spacing">300</text>
<text class="m" x="594.4" y="141" font-size="11" textLength="77" lengthAdjust="spacing" xml:space="preserve">Max Amp, dB</text>
<text class="m" x="776.5" y="141" font-size="11" textLength="14" lengthAdjust="spacing">66</text>
<text class="m" x="594.4" y="155" font-size="11" textLength="105" lengthAdjust="spacing" xml:space="preserve">Max SNR Amp, dB</text>
<text class="m" x="776.5" y="155" font-size="11" textLength="14" lengthAdjust="spacing">33</text>
<text class="m" x="594.4" y="169" font-size="11" textLength="105" lengthAdjust="spacing" xml:space="preserve">Min SNR Amp, dB</text>
<text class="m" x="776.5" y="169" font-size="11" textLength="14" lengthAdjust="spacing">12</text>
<text class="m" x="594.4" y="183" font-size="11" textLength="105" lengthAdjust="spacing" xml:space="preserve">Avg SNR Amp, dB</text>
<text class="m" x="776.5" y="183" font-size="11" textLength="14" lengthAdjust="spacing">21</text>
<text class="m" x="594.4" y="197" font-size="11" textLength="112" lengthAdjust="spacing" xml:space="preserve">Max RMS Err, deg</text>
<text class="m" x="762.5" y="197" font-size="11" textLength="28" lengthAdjust="spacing">12.0</text>
<text class="m" x="594.4" y="211" font-size="11" textLength="112" lengthAdjust="spacing" xml:space="preserve">Min RMS Err, deg</text>
<text class="m" x="769.5" y="211" font-size="11" textLength="21" lengthAdjust="spacing">0.0</text>
<text class="m" x="594.4" y="225" font-size="11" textLength="112" lengthAdjust="spacing" xml:space="preserve">Avg RMS Err, deg</text>
<text class="m" x="769.5" y="225" font-size="11" textLength="21" lengthAdjust="spacing">3.5</text>
<text class="m" x="594.4" y="239" font-size="11" textLength="105" lengthAdjust="spacing" xml:space="preserve">Doppler Res, Hz</text>
<text class="m" x="748.5" y="239" font-size="11" textLength="42" lengthAdjust="spacing">0.0488</text>
<text class="m" x="594.4" y="253" font-size="11" textLength="56" lengthAdjust="spacing" xml:space="preserve">CIT, sec</text>
<text class="m" x="755.5" y="253" font-size="11" textLength="35" lengthAdjust="spacing">20.48</text>
<text class="m" x="594.4" y="267" font-size="11" textLength="77" lengthAdjust="spacing" xml:space="preserve">Num of CITs</text>
<text class="m" x="783.5" y="267" font-size="11" textLength="7" lengthAdjust="spacing">4</text>
<text class="m" x="594.4" y="281" font-size="11" textLength="84" lengthAdjust="spacing" xml:space="preserve">Polarization</text>
<text class="m" x="748.5" y="281" font-size="11" textLength="42" lengthAdjust="spacing">O-mode</text>
<text class="m" x="594.4" y="295" font-size="11" textLength="161" lengthAdjust="spacing" xml:space="preserve">Center of Sources, deg:</text>
<text class="m" x="664.4" y="309" font-size="11" textLength="42" lengthAdjust="spacing" xml:space="preserve">Zenith</text>
<text class="m" x="769.5" y="309" font-size="11" textLength="21" lengthAdjust="spacing">4.8</text>
<text class="m" x="664.4" y="323" font-size="11" textLength="49" lengthAdjust="spacing">Azimuth</text>
<text class="s" x="719.9" y="322" font-size="7.5">↶</text>
<text class="m" x="769.5" y="323" font-size="11" textLength="21" lengthAdjust="spacing">147</text>
<rect x="593" y="341" width="15" height="242" fill="url(#cb)"/>
<path d="M608.5 341V583M608 582.5h7M608 578.5h7M608 574.5h4M608 570.5h4M608 566.5h4M608 562.5h4M608 558.5h7M608 554.5h4M608 551.5h4M608 547.5h4M608 543.5h4M608 539.5h7M608 535.5h4M608 531.5h4M608 527.5h4M608 523.5h4M608 520.5h7M608 516.5h4M608 512.5h4M608 508.5h4M608 504.5h4M608 500.5h7M608 496.5h4M608 492.5h4M608 489.5h4M608 485.5h4M608 481.5h7M608 477.5h4M608 473.5h4M608 469.5h4M608 465.5h4M608 461.5h7M608 458.5h4M608 454.5h4M608 450.5h4M608 446.5h4M608 442.5h7M608 438.5h4M608 434.5h4M608 430.5h4M608 427.5h4M608 423.5h7M608 419.5h4M608 415.5h4M608 411.5h4M608 407.5h4M608 403.5h7M608 399.5h4M608 396.5h4M608 392.5h4M608 388.5h4M608 384.5h7M608 380.5h4M608 376.5h4M608 372.5h4M608 368.5h4M608 365.5h7M608 361.5h4M608 357.5h4M608 353.5h4M608 349.5h4M608 345.5h7M608 341.5h7" stroke="#000" stroke-width="1" fill="none" shape-rendering="crispEdges"/>
<text class="sb" x="617.5" y="345" font-size="10.5">3.1</text>
<text class="sb" x="617.5" y="369" font-size="10.5">2.5</text>
<text class="sb" x="617.5" y="388" font-size="10.5">2.0</text>
<text class="sb" x="617.5" y="407" font-size="10.5">1.5</text>
<text class="sb" x="617.5" y="427" font-size="10.5">1.0</text>
<text class="sb" x="617.5" y="446" font-size="10.5">0.5</text>
<text class="sb" x="617.5" y="465" font-size="10.5">0</text>
<text class="sb" x="617.5" y="485" font-size="10.5">-0.5</text>
<text class="sb" x="617.5" y="504" font-size="10.5">-1.0</text>
<text class="sb" x="617.5" y="524" font-size="10.5">-1.5</text>
<text class="sb" x="617.5" y="543" font-size="10.5">-2.0</text>
<text class="sb" x="617.5" y="562" font-size="10.5">-2.5</text>
<text class="sb" x="617.5" y="586" font-size="10.5">-3.1</text>
<text class="sb" font-size="9.5" transform="translate(657,491) rotate(-90)" textLength="52" lengthAdjust="spacingAndGlyphs">Doppler, Hz</text>
<path d="M669 402.5h8M672.5 399v8" stroke="#0000ff" stroke-width="1" fill="none" shape-rendering="crispEdges"/>
<text class="sb" x="682.6" y="406" font-size="9.7" fill="#0000ff" textLength="44.8" lengthAdjust="spacingAndGlyphs">Positive</text>
<circle cx="673" cy="522.9" r="2.6" fill="none" stroke="#ff0000" stroke-width="1.1"/>
<text class="sb" x="682.6" y="526" font-size="9.7" fill="#f80000" textLength="51" lengthAdjust="spacingAndGlyphs">Negative</text>
<text class="mi" x="11.6" y="572" font-size="11.8" textLength="7" lengthAdjust="spacing" xml:space="preserve">V</text>
<text class="m" x="19.6" y="575" font-size="9.6" stroke="#000" stroke-width="0.3">h</text>
<text class="mi" x="32.6" y="572" font-size="11.8" textLength="56" lengthAdjust="spacing" xml:space="preserve">= 71 ± 6</text>
<text class="m" x="95.6" y="572" font-size="11.8" textLength="21" lengthAdjust="spacing" xml:space="preserve">m/s</text>
<text class="mi" x="11.6" y="593" font-size="11.8" textLength="154" lengthAdjust="spacing" xml:space="preserve">Geographic coordinates</text>
<text class="mi" x="473.6" y="572" font-size="11.8" textLength="7" lengthAdjust="spacing" xml:space="preserve">V</text>
<text class="mb" x="481.3" y="575" font-size="9.6">z</text>
<text class="mi" x="494.6" y="572" font-size="11.8" textLength="56" lengthAdjust="spacing" xml:space="preserve">= -6 ± 1</text>
<text class="m" x="557.6" y="572" font-size="11.8" textLength="21" lengthAdjust="spacing" xml:space="preserve">m/s</text>
<text class="mi" x="419.4" y="593" font-size="11.8" textLength="98" lengthAdjust="spacing" xml:space="preserve">Zenith: max 40</text>
<text class="mi" x="516.5" y="593" font-size="11.8">°</text>
<text class="mi" x="534.6" y="593" font-size="11.8" textLength="42" lengthAdjust="spacing" xml:space="preserve">step 5</text>
<text class="mi" x="575.8" y="593" font-size="11.8">°</text>
<text class="s" x="654" y="592.6" font-size="9.2" textLength="139" lengthAdjust="spacing" xml:space="preserve">ShowSkymap v 1.0   SD v 5.1</text>
<path d="M39.3 13.3 C34 11 27 11.2 22.7 13.2 C17 16 12.5 21 11.4 27 C10.4 33 12 38.5 14.6 43 C14.2 40 13.9 36 14.3 32.7 C14.9 27 17 22.5 21 18.6 C25.5 14.6 32 13 39.3 13.3Z" fill="#3398bf"/>
<text x="49" y="30.5" font-size="10.5" font-family="'Liberation Serif',serif" fill="#3c1a32" stroke="#3c1a32" stroke-width="0.25" textLength="30.5" lengthAdjust="spacingAndGlyphs">Lowell</text>
<text x="20" y="42.5" font-size="10.5" font-family="'Liberation Sans',sans-serif" fill="#8c2560" stroke="#8c2560" stroke-width="0.35" textLength="60" lengthAdjust="spacingAndGlyphs">DIGISONDE</text>
</svg></body></html>
